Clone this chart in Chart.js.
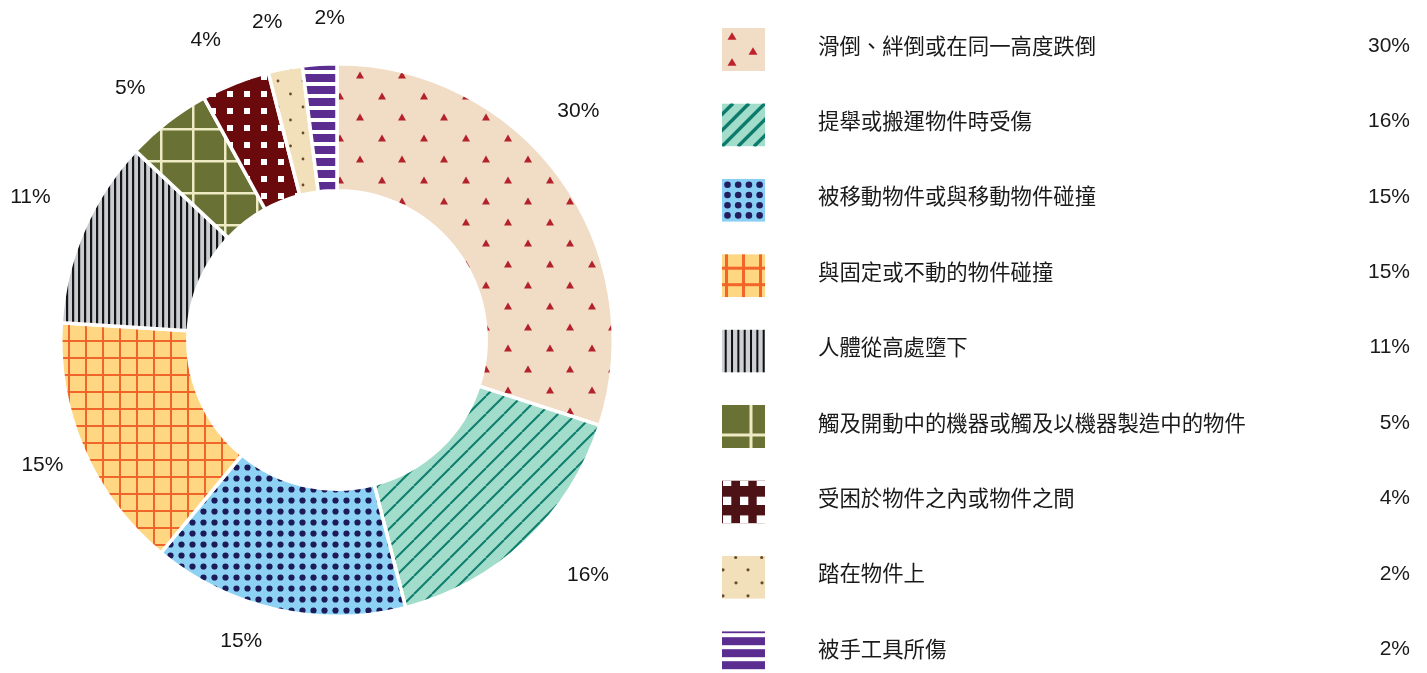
<!DOCTYPE html>
<html>
<head>
<meta charset="utf-8">
<script src="https://cdn.jsdelivr.net/npm/chart.js@4.4.1/dist/chart.umd.min.js"></script>
<style>
  html, body { margin: 0; padding: 0; background: #ffffff; }
  canvas { display: block; }
</style>
</head>
<body>
<canvas id="accidents" width="1427" height="673"></canvas>
<script>
// Causes of injury and their share of all cases (%)
const categories = [
  '滑倒、絆倒或在同一高度跌倒',
  '提舉或搬運物件時受傷',
  '被移動物件或與移動物件碰撞',
  '與固定或不動的物件碰撞',
  '人體從高處墮下',
  '觸及開動中的機器或觸及以機器製造中的物件',
  '受困於物件之內或物件之間',
  '踏在物件上',
  '被手工具所傷'
];
const shares = [30, 16, 15, 15, 11, 5, 4, 2, 2];
const shareLabels = ['30%', '16%', '15%', '15%', '11%', '5%', '4%', '2%', '2%'];

// Small per-label adjustments of the outside percentage labels (px)
const labelNudge = [[-21, -38], [29, -1], [-25, -15], [3, -4], [-9, -14], [-8, 4], [-12, 2], [-9, 1], [13, 2]];

const canvas = document.getElementById('accidents');
const mainCtx = canvas.getContext('2d');

function tile(w, h, paint) {
  const c = document.createElement('canvas');
  c.width = w; c.height = h;
  const g = c.getContext('2d');
  paint(g, w, h);
  return mainCtx.createPattern(c, 'repeat');
}

function tri(g, cx, cy, w, h) {
  g.beginPath();
  g.moveTo(cx, cy - h / 2);
  g.lineTo(cx + w / 2, cy + h / 2);
  g.lineTo(cx - w / 2, cy + h / 2);
  g.closePath();
  g.fill();
}

// Fill patterns used for the ring segments
const fills = [
  tile(42, 42, (g, w, h) => {
    g.fillStyle = '#F1DCC6'; g.fillRect(0, 0, w, h);
    g.fillStyle = '#B3222B';
    for (const [x, y] of [[24, 33], [4, 12], [46, 12], [24, -9]]) tri(g, x, y, 8, 7);
  }),
  tile(18, 18, (g, w, h) => {
    g.fillStyle = '#A2DCCB'; g.fillRect(0, 0, w, h);
    g.strokeStyle = '#0F7E6E'; g.lineWidth = 2;
    for (const x0 of [-w, 0, w]) { g.beginPath(); g.moveTo(x0, h); g.lineTo(x0 + w, 0); g.stroke(); }
  }),
  tile(11, 11, (g, w, h) => {
    g.fillStyle = '#8DD2F4'; g.fillRect(0, 0, w, h);
    g.fillStyle = '#1D1A5A';
    g.beginPath(); g.arc(5.5, 5.5, 3.1, 0, Math.PI * 2); g.fill();
  }),
  tile(17, 17, (g, w, h) => {
    g.fillStyle = '#FFD682'; g.fillRect(0, 0, w, h);
    g.fillStyle = '#F0652A'; g.fillRect(0, 0, 2, h); g.fillRect(0, 0, w, 2);
  }),
  tile(6, 6, (g, w, h) => {
    g.fillStyle = '#C9CDD2'; g.fillRect(0, 0, w, h);
    g.fillStyle = '#151515'; g.fillRect(0, 0, 2.2, h);
  }),
  tile(32, 32, (g, w, h) => {
    g.fillStyle = '#6A7134'; g.fillRect(0, 0, w, h);
    g.fillStyle = '#EEEBC4'; g.fillRect(0, 0, 2.5, h); g.fillRect(0, 0, w, 2.5);
  }),
  tile(17, 17, (g, w, h) => {
    g.fillStyle = '#6A0A0C'; g.fillRect(0, 0, w, h);
    g.fillStyle = '#FFFFFF'; g.fillRect(6, 6, 6, 6);
  }),
  tile(25, 26, (g, w, h) => {
    g.fillStyle = '#F2E0BB'; g.fillRect(0, 0, w, h);
    g.fillStyle = '#6B4A2C';
    for (const [x, y] of [[3, 3], [15.5, 16]]) { g.beginPath(); g.arc(x, y, 1.4, 0, Math.PI * 2); g.fill(); }
  }),
  tile(12, 12, (g, w, h) => {
    g.fillStyle = '#FFFFFF'; g.fillRect(0, 0, w, h);
    g.fillStyle = '#5C2D91'; g.fillRect(0, 2, w, 8);
  })
];

// Legend swatches (43 x 43), drawn at a larger scale than the ring patterns
const swatchPainters = [
  g => {
    g.fillStyle = '#F1DCC6'; g.fillRect(0, 0, 43, 43);
    g.fillStyle = '#BE232C';
    for (const [x, y] of [[10, 8], [31, 23], [10, 34]]) tri(g, x, y, 9, 7.5);
  },
  g => {
    g.fillStyle = '#A2DCCB'; g.fillRect(0, 0, 43, 43);
    g.strokeStyle = '#0C7B6B'; g.lineWidth = 3.5;
    for (let x0 = -48; x0 < 60; x0 += 16) { g.beginPath(); g.moveTo(x0, 43); g.lineTo(x0 + 43, 0); g.stroke(); }
  },
  g => {
    g.fillStyle = '#89CFF5'; g.fillRect(0, 0, 43, 43);
    g.fillStyle = '#221E5E';
    for (let i = 0; i < 4; i++) for (let j = 0; j < 4; j++) {
      g.beginPath(); g.arc(5.5 + i * 10.7, 6 + j * 10.2, 3.3, 0, Math.PI * 2); g.fill();
    }
  },
  g => {
    g.fillStyle = '#FFD682'; g.fillRect(0, 0, 43, 43);
    g.fillStyle = '#F26428';
    for (const x of [3, 20, 37]) g.fillRect(x, 0, 3, 43);
    for (const y of [12.5, 29]) g.fillRect(0, y, 43, 3);
  },
  g => {
    g.fillStyle = '#CDD1D6'; g.fillRect(0, 0, 43, 43);
    g.fillStyle = '#111111';
    for (let x = 2.7; x < 43; x += 6.33) g.fillRect(x, 0, 2, 43);
  },
  g => {
    g.fillStyle = '#6A7134'; g.fillRect(0, 0, 43, 43);
    g.fillStyle = '#EEEBC4'; g.fillRect(27.5, 0, 3, 43); g.fillRect(0, 28.5, 43, 3);
  },
  g => {
    g.fillStyle = '#4C1216'; g.fillRect(0, 0, 43, 43);
    g.fillStyle = '#FFFFFF';
    for (const x of [1, 18, 34.7]) for (const [y, hh] of [[0, 5.6], [16.3, 8.3], [35, 8]]) g.fillRect(x, y, 8.3, hh);
  },
  g => {
    g.fillStyle = '#F2E0BB'; g.fillRect(0, 0, 43, 43);
    g.fillStyle = '#6B4A2C';
    for (const [x, y] of [[13.7, 1.7], [39.7, 1.7], [1, 14], [26, 14], [14, 27], [40, 27], [1, 40], [26, 40]]) {
      g.beginPath(); g.arc(x, y, 1.6, 0, Math.PI * 2); g.fill();
    }
  },
  g => {
    g.fillStyle = '#5C2D91';
    for (const [y, hh] of [[0, 2], [6, 8], [18, 8], [30, 8]]) g.fillRect(0, y, 43, hh);
  }
];

const LABEL_FONT = '21px "Liberation Sans", Arial, sans-serif';
const CJK_FONT = '21.4px "Noto Sans CJK TC", "Noto Sans CJK SC", sans-serif';

// Percentage labels just outside each ring segment
const outsideLabels = {
  id: 'outsideLabels',
  afterDatasetsDraw(chart) {
    const ctx = chart.ctx;
    const meta = chart.getDatasetMeta(0);
    ctx.save();
    ctx.font = LABEL_FONT;
    ctx.fillStyle = '#141414';
    ctx.textAlign = 'center';
    ctx.textBaseline = 'middle';
    meta.data.forEach((arc, i) => {
      const p = arc.getProps(['x', 'y', 'startAngle', 'endAngle', 'outerRadius'], true);
      const mid = (p.startAngle + p.endAngle) / 2;
      const r = p.outerRadius + 48;
      const [dx, dy] = labelNudge[i];
      ctx.fillText(shareLabels[i], p.x + Math.cos(mid) * r + dx, p.y + Math.sin(mid) * r + dy);
    });
    ctx.restore();
  }
};

// Legend table on the right: swatch, cause, share
const sideLegend = {
  id: 'sideLegend',
  afterDraw(chart) {
    const ctx = chart.ctx;
    const left = 722, textX = 818, valueX = 1410, top0 = 28, step = 75.4;
    categories.forEach((name, i) => {
      const top = top0 + i * step;
      ctx.save();
      ctx.translate(left, top);
      ctx.beginPath(); ctx.rect(0, 0, 43, 43); ctx.clip();
      swatchPainters[i](ctx);
      ctx.restore();

      ctx.save();
      ctx.fillStyle = '#1A1A1A';
      ctx.textBaseline = 'middle';
      ctx.font = CJK_FONT;
      ctx.textAlign = 'left';
      ctx.fillText(name, textX, top + 17.5);
      ctx.font = LABEL_FONT;
      ctx.textAlign = 'right';
      ctx.fillText(shareLabels[i], valueX, top + 18);
      ctx.restore();
    });
  }
};

new Chart(canvas, {
  type: 'doughnut',
  data: {
    labels: categories,
    datasets: [{
      data: shares,
      backgroundColor: fills,
      borderColor: '#FFFFFF',
      borderWidth: 3.5,
      hoverOffset: 0
    }]
  },
  options: {
    responsive: false,
    animation: false,
    events: [],
    cutout: '54%',
    rotation: 0,
    layout: { padding: { left: 59, right: 812, top: 62, bottom: 55 } },
    plugins: {
      legend: { display: false },
      tooltip: { enabled: false }
    }
  },
  plugins: [outsideLabels, sideLegend]
});
</script>
</body>
</html>
